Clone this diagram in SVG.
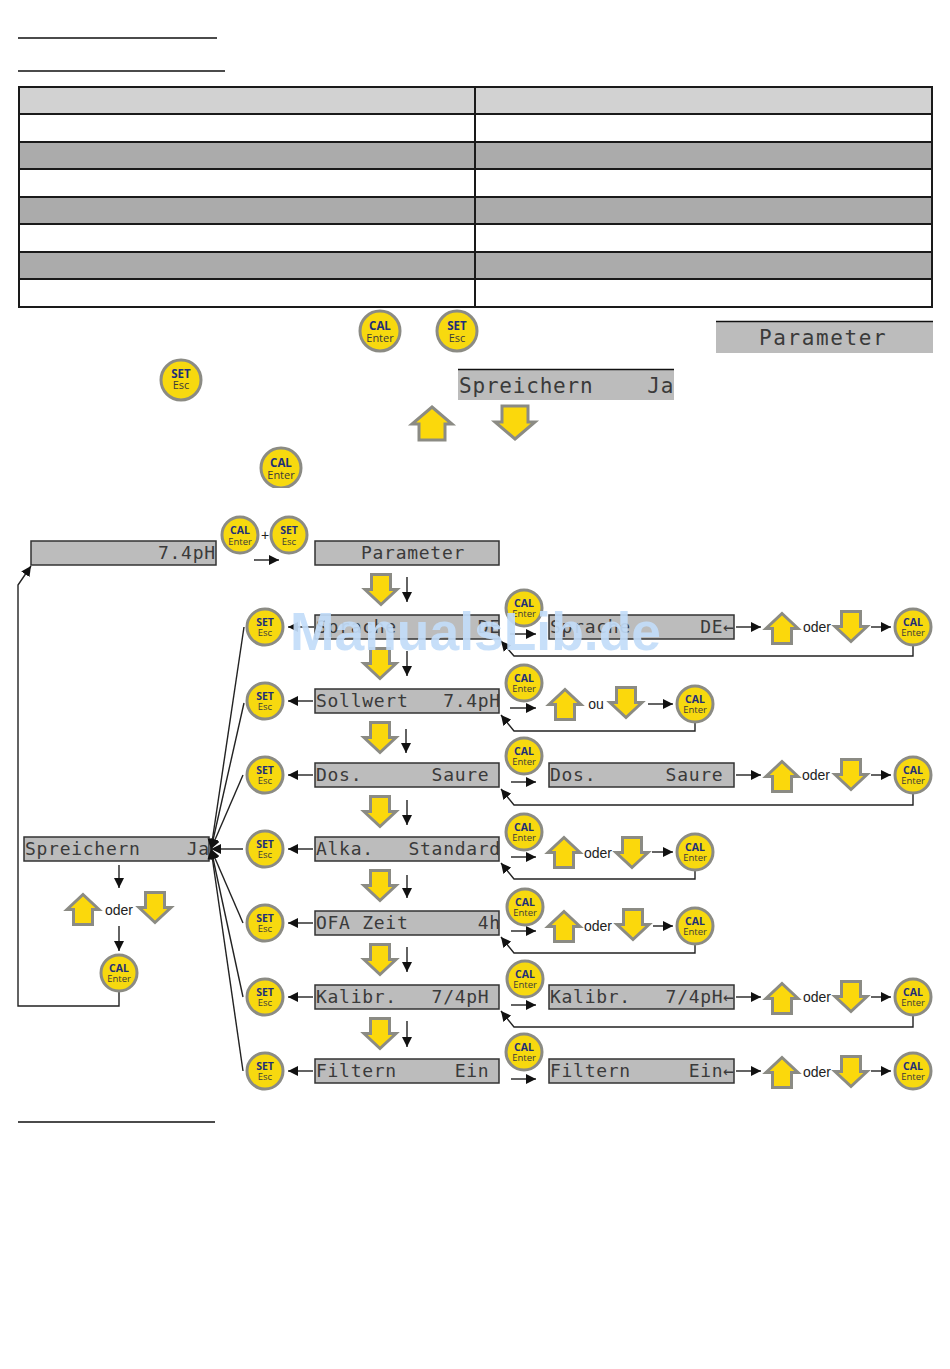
<svg xmlns="http://www.w3.org/2000/svg" width="950" height="1369" viewBox="0 0 950 1369">
<style>
.bg{fill:#fff}
.rule{stroke:#111;stroke-width:1.6;fill:none}
.cell{stroke:#1a1a1a;stroke-width:2}
.h{fill:#d2d2d2}.g{fill:#ababab}.w{fill:#fff}
.lcd{fill:#bcbcbc;stroke:#333;stroke-width:1.5}
.lcdb{fill:#bcbcbc}
.lt{font-family:"DejaVu Sans Mono",monospace;font-size:18px;letter-spacing:.72px;fill:#3a3a3a;white-space:pre}
.ltb{font-family:"DejaVu Sans Mono",monospace;font-size:21px;letter-spacing:.8px;fill:#3a3a3a;white-space:pre}
.ltp{letter-spacing:1.6px}
.btn{fill:#f7d90f;stroke:#8b8b84;stroke-width:3}
.t1{font-family:"Open Sans",sans-serif;font-weight:700;font-size:10.5px;fill:#1e2f78;text-anchor:middle}
.t2{font-family:"Open Sans",sans-serif;font-size:9.5px;fill:#3a3a3a;text-anchor:middle}
.t1b{font-family:"Open Sans",sans-serif;font-weight:700;font-size:11.5px;fill:#1e2f78;text-anchor:middle}
.t2b{font-family:"Open Sans",sans-serif;font-size:11px;fill:#3a3a3a;text-anchor:middle}
.lab{font-family:"Liberation Sans",sans-serif;font-size:14px;fill:#222;text-anchor:middle}
.yl{fill:#fbd80c;stroke:#8b8b84;stroke-width:3;stroke-linejoin:miter}
.c{fill:none;stroke:#222;stroke-width:1.4}
.a{marker-end:url(#ah)}
.wm{font-family:"Liberation Sans",sans-serif;font-weight:700;font-size:54px;fill:#c2dcf9;fill-opacity:.92}
</style>
<defs>
<marker id="ah" markerUnits="userSpaceOnUse" markerWidth="11" markerHeight="10" refX="10" refY="5" orient="auto"><path d="M0,0L10,5L0,10Z" fill="#111"/></marker>
<path id="up" class="yl" d="M0,-14.500L16,0.500H9.500V15.500H-9.500V0.500H-16Z"/>
<path id="dn" class="yl" d="M0,14.500L16,-0.500H9.500V-15.500H-9.500V-0.500H-16Z"/>
<path id="upb" class="yl" d="M0,-16L20,1H13V17H-13V1H-20Z"/>
<path id="dnb" class="yl" d="M0,16L20,-1H13V-17H-13V-1H-20Z"/>
<clipPath id="clipcal"><rect x="250" y="440" width="60" height="48"/></clipPath>
</defs>
<rect class="bg" width="950" height="1369"/>
<g id="rules">
<path class="rule" d="M18,38H217M18,71H225M18,1122H215"/>
</g>
<g id="table">
<rect class="cell h" x="19" y="87" width="456" height="27"/><rect class="cell h" x="475" y="87" width="457" height="27"/>
<rect class="cell w" x="19" y="114" width="456" height="28"/><rect class="cell w" x="475" y="114" width="457" height="28"/>
<rect class="cell g" x="19" y="142" width="456" height="27"/><rect class="cell g" x="475" y="142" width="457" height="27"/>
<rect class="cell w" x="19" y="169" width="456" height="28"/><rect class="cell w" x="475" y="169" width="457" height="28"/>
<rect class="cell g" x="19" y="197" width="456" height="27"/><rect class="cell g" x="475" y="197" width="457" height="27"/>
<rect class="cell w" x="19" y="224" width="456" height="28"/><rect class="cell w" x="475" y="224" width="457" height="28"/>
<rect class="cell g" x="19" y="252" width="456" height="27"/><rect class="cell g" x="475" y="252" width="457" height="27"/>
<rect class="cell w" x="19" y="279" width="456" height="28"/><rect class="cell w" x="475" y="279" width="457" height="28"/>
</g>
<g id="btn-top-cal"><circle class="btn" cx="380" cy="331" r="20"/><text class="t1b" x="380" y="330">CAL</text><text class="t2b" x="380" y="342">Enter</text></g>
<g id="btn-top-set"><circle class="btn" cx="457" cy="331" r="20"/><text class="t1b" x="457" y="330">SET</text><text class="t2b" x="457" y="342">Esc</text></g>
<g id="btn-top-set2"><circle class="btn" cx="181" cy="380" r="20"/><text class="t1b" x="181" y="378">SET</text><text class="t2b" x="181" y="389">Esc</text></g>
<g id="btn-top-cal2" clip-path="url(#clipcal)"><circle class="btn" cx="281" cy="468" r="20"/><text class="t1b" x="281" y="467">CAL</text><text class="t2b" x="281" y="479">Enter</text></g>
<g id="lcd-top-parameter"><rect class="lcdb" x="716" y="321" width="217" height="32"/><path class="rule" d="M716,321.500H933" stroke-width="1"/><text class="ltb ltp" x="759" y="345">Parameter</text></g>
<g id="lcd-top-speichern"><rect class="lcdb" x="458" y="369" width="216" height="31"/><path class="rule" d="M458,369.500H674" stroke-width="1"/><text class="ltb" x="459" y="393" xml:space="preserve">Spreichern    Ja</text></g>
<use id="arrow-top-up" href="#upb" x="432" y="423"/>
<use id="arrow-top-down" href="#dnb" x="515" y="423"/>
<g id="lcd-ph"><rect class="lcd" x="31" y="541" width="185" height="24"/><text class="lt" x="158" y="559">7.4pH</text></g>
<g id="btn-cal-start"><circle class="btn" cx="240" cy="535" r="18"/><text class="t1" x="240" y="534">CAL</text><text class="t2" x="240" y="545">Enter</text></g>
<text id="plus" class="lab" x="265" y="540">+</text>
<g id="btn-set-start"><circle class="btn" cx="289" cy="535" r="18"/><text class="t1" x="289" y="534">SET</text><text class="t2" x="289" y="545">Esc</text></g>
<g id="lcd-parameter"><rect class="lcd" x="315" y="541" width="184" height="24"/><text class="lt" x="361" y="559">Parameter</text></g>
<g id="lcd-sprache"><rect class="lcd" x="315" y="615" width="184" height="24"/><text class="lt" x="316" y="633" xml:space="preserve">Sprache       DE</text></g>
<g id="lcd-sollwert"><rect class="lcd" x="315" y="689" width="184" height="24"/><text class="lt" x="316" y="707" xml:space="preserve">Sollwert   7.4pH</text></g>
<g id="lcd-dos"><rect class="lcd" x="315" y="763" width="184" height="24"/><text class="lt" x="316" y="781" xml:space="preserve">Dos.      Saure</text></g>
<g id="lcd-alka"><rect class="lcd" x="315" y="837" width="184" height="24"/><text class="lt" x="316" y="855" xml:space="preserve">Alka.   Standard</text></g>
<g id="lcd-ofa"><rect class="lcd" x="315" y="911" width="184" height="24"/><text class="lt" x="316" y="929" xml:space="preserve">OFA Zeit      4h</text></g>
<g id="lcd-kalibr"><rect class="lcd" x="315" y="985" width="184" height="24"/><text class="lt" x="316" y="1003" xml:space="preserve">Kalibr.   7/4pH</text></g>
<g id="lcd-filtern"><rect class="lcd" x="315" y="1059" width="184" height="24"/><text class="lt" x="316" y="1077" xml:space="preserve">Filtern     Ein</text></g>
<g id="lcd-sprache2"><rect class="lcd" x="549" y="615" width="185" height="24"/><text class="lt" x="550" y="633" xml:space="preserve">Sprache      DE←</text></g>
<g id="lcd-dos2"><rect class="lcd" x="549" y="763" width="185" height="24"/><text class="lt" x="550" y="781" xml:space="preserve">Dos.      Saure</text></g>
<g id="lcd-kalibr2"><rect class="lcd" x="549" y="985" width="185" height="24"/><text class="lt" x="550" y="1003" xml:space="preserve">Kalibr.   7/4pH←</text></g>
<g id="lcd-filtern2"><rect class="lcd" x="549" y="1059" width="185" height="24"/><text class="lt" x="550" y="1077" xml:space="preserve">Filtern     Ein←</text></g>
<g id="lcd-speichern"><rect class="lcd" x="24" y="837" width="185" height="24"/><text class="lt" x="25" y="855" xml:space="preserve">Spreichern    Ja</text></g>
<g id="connectors">
<path class="c a" d="M254,560H279"/>
<path class="c a" d="M407,577V602"/>
<path class="c a" d="M407,651V676"/>
<path class="c a" d="M406,729V753"/>
<path class="c a" d="M407,800V825"/>
<path class="c a" d="M407,875V898"/>
<path class="c a" d="M407,947V972"/>
<path class="c a" d="M407,1021V1047"/>
<path class="c a" d="M314,627H288"/>
<path class="c a" d="M313,701H288"/>
<path class="c a" d="M313,775H288"/>
<path class="c a" d="M313,849H288"/>
<path class="c a" d="M313,923H288"/>
<path class="c a" d="M313,997H288"/>
<path class="c a" d="M313,1071H288"/>
<path class="c a" d="M244,627L211,849"/>
<path class="c a" d="M244,703L211,849"/>
<path class="c a" d="M243,775L211,849"/>
<path class="c a" d="M243,849H211"/>
<path class="c a" d="M243,923L211,849"/>
<path class="c a" d="M243,997L211,849"/>
<path class="c a" d="M243,1071L211,849"/>
<path class="c a" d="M510,634H536"/>
<path class="c a" d="M510,708H536"/>
<path class="c a" d="M511,782H536"/>
<path class="c a" d="M511,857H536"/>
<path class="c a" d="M511,931H536"/>
<path class="c a" d="M511,1005H536"/>
<path class="c a" d="M511,1079H536"/>
<path class="c a" d="M736,627H761"/>
<path class="c a" d="M871,627H891"/>
<path class="c a" d="M736,775H761"/>
<path class="c a" d="M871,775H891"/>
<path class="c a" d="M736,997H761"/>
<path class="c a" d="M871,997H891"/>
<path class="c a" d="M736,1071H761"/>
<path class="c a" d="M871,1071H891"/>
<path class="c a" d="M648,704H673"/>
<path class="c a" d="M652,852H673"/>
<path class="c a" d="M653,926H673"/>
<path class="c a" d="M913,646V656H514L501,641"/>
<path class="c a" d="M695,723V731H514L501,715"/>
<path class="c a" d="M913,794V805H514L501,789"/>
<path class="c a" d="M695,871V879H514L501,863"/>
<path class="c a" d="M695,945V953H514L501,937"/>
<path class="c a" d="M913,1016V1027H514L501,1011"/>
<path class="c a" d="M119,865V888"/>
<path class="c a" d="M119,926V951"/>
<path class="c a" d="M119,992V1006H18V585L31,566"/>
</g>
<g id="yellow-arrows">
<use href="#dn" x="381" y="590"/><use href="#dn" x="380" y="664"/><use href="#dn" x="380" y="738"/><use href="#dn" x="380" y="812"/><use href="#dn" x="380" y="886"/><use href="#dn" x="380" y="960"/><use href="#dn" x="380" y="1034"/>
<use href="#up" x="782" y="628"/><use href="#dn" x="851" y="627"/>
<use href="#up" x="565" y="704"/><use href="#dn" x="626" y="703"/>
<use href="#up" x="782" y="776"/><use href="#dn" x="851" y="775"/>
<use href="#up" x="564" y="852"/><use href="#dn" x="632" y="853"/>
<use href="#up" x="564" y="926"/><use href="#dn" x="633" y="925"/>
<use href="#up" x="782" y="998"/><use href="#dn" x="851" y="997"/>
<use href="#up" x="782" y="1072"/><use href="#dn" x="851" y="1072"/>
<use href="#up" x="83" y="909"/><use href="#dn" x="155" y="908"/>
</g>
<g id="labels">
<text class="lab" x="817" y="632">oder</text>
<text class="lab" x="596" y="709">ou</text>
<text class="lab" x="816" y="780">oder</text>
<text class="lab" x="598" y="858">oder</text>
<text class="lab" x="598" y="931">oder</text>
<text class="lab" x="817" y="1002">oder</text>
<text class="lab" x="817" y="1077">oder</text>
<text class="lab" x="119" y="915">oder</text>
</g>
<g id="btn-set-1"><circle class="btn" cx="265" cy="627" r="18"/><text class="t1" x="265" y="626">SET</text><text class="t2" x="265" y="636">Esc</text></g>
<g id="btn-set-2"><circle class="btn" cx="265" cy="701" r="18"/><text class="t1" x="265" y="700">SET</text><text class="t2" x="265" y="710">Esc</text></g>
<g id="btn-set-3"><circle class="btn" cx="265" cy="775" r="18"/><text class="t1" x="265" y="774">SET</text><text class="t2" x="265" y="784">Esc</text></g>
<g id="btn-set-4"><circle class="btn" cx="265" cy="849" r="18"/><text class="t1" x="265" y="848">SET</text><text class="t2" x="265" y="858">Esc</text></g>
<g id="btn-set-5"><circle class="btn" cx="265" cy="923" r="18"/><text class="t1" x="265" y="922">SET</text><text class="t2" x="265" y="932">Esc</text></g>
<g id="btn-set-6"><circle class="btn" cx="265" cy="997" r="18"/><text class="t1" x="265" y="996">SET</text><text class="t2" x="265" y="1006">Esc</text></g>
<g id="btn-set-7"><circle class="btn" cx="265" cy="1071" r="18"/><text class="t1" x="265" y="1070">SET</text><text class="t2" x="265" y="1080">Esc</text></g>
<g id="btn-cal-1"><circle class="btn" cx="524" cy="608" r="18"/><text class="t1" x="524" y="607">CAL</text><text class="t2" x="524" y="617">Enter</text></g>
<g id="btn-cal-2"><circle class="btn" cx="524" cy="683" r="18"/><text class="t1" x="524" y="682">CAL</text><text class="t2" x="524" y="692">Enter</text></g>
<g id="btn-cal-3"><circle class="btn" cx="524" cy="756" r="18"/><text class="t1" x="524" y="755">CAL</text><text class="t2" x="524" y="765">Enter</text></g>
<g id="btn-cal-4"><circle class="btn" cx="524" cy="832" r="18"/><text class="t1" x="524" y="831">CAL</text><text class="t2" x="524" y="841">Enter</text></g>
<g id="btn-cal-5"><circle class="btn" cx="525" cy="907" r="18"/><text class="t1" x="525" y="906">CAL</text><text class="t2" x="525" y="916">Enter</text></g>
<g id="btn-cal-6"><circle class="btn" cx="525" cy="979" r="18"/><text class="t1" x="525" y="978">CAL</text><text class="t2" x="525" y="988">Enter</text></g>
<g id="btn-cal-7"><circle class="btn" cx="524" cy="1052" r="18"/><text class="t1" x="524" y="1051">CAL</text><text class="t2" x="524" y="1061">Enter</text></g>
<g id="btn-cal-r1"><circle class="btn" cx="913" cy="627" r="18"/><text class="t1" x="913" y="626">CAL</text><text class="t2" x="913" y="636">Enter</text></g>
<g id="btn-cal-r2"><circle class="btn" cx="695" cy="704" r="18"/><text class="t1" x="695" y="703">CAL</text><text class="t2" x="695" y="713">Enter</text></g>
<g id="btn-cal-r3"><circle class="btn" cx="913" cy="775" r="18"/><text class="t1" x="913" y="774">CAL</text><text class="t2" x="913" y="784">Enter</text></g>
<g id="btn-cal-r4"><circle class="btn" cx="695" cy="852" r="18"/><text class="t1" x="695" y="851">CAL</text><text class="t2" x="695" y="861">Enter</text></g>
<g id="btn-cal-r5"><circle class="btn" cx="695" cy="926" r="18"/><text class="t1" x="695" y="925">CAL</text><text class="t2" x="695" y="935">Enter</text></g>
<g id="btn-cal-r6"><circle class="btn" cx="913" cy="997" r="18"/><text class="t1" x="913" y="996">CAL</text><text class="t2" x="913" y="1006">Enter</text></g>
<g id="btn-cal-r7"><circle class="btn" cx="913" cy="1071" r="18"/><text class="t1" x="913" y="1070">CAL</text><text class="t2" x="913" y="1080">Enter</text></g>
<g id="btn-cal-end"><circle class="btn" cx="119" cy="973" r="18"/><text class="t1" x="119" y="972">CAL</text><text class="t2" x="119" y="982">Enter</text></g>
<text id="watermark" class="wm" x="290" y="650" textLength="371" lengthAdjust="spacingAndGlyphs">ManualsLib.de</text>
</svg>
